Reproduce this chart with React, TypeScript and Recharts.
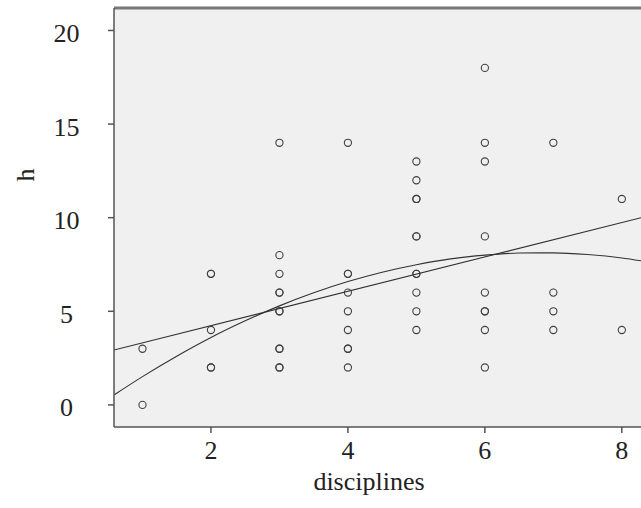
import {
  ComposedChart,
  Scatter,
  Line,
  XAxis,
  YAxis,
  CartesianGrid,
  ReferenceLine,
} from "recharts";

// observed points (disciplines, h) - repeated pairs are overlapping points
const disciplines = [
  1, 1,
  2, 2, 2, 2, 2,
  3, 3, 3, 3, 3, 3, 3, 3, 3, 3, 3,
  4, 4, 4, 4, 4, 4, 4, 4, 4,
  5, 5, 5, 5, 5, 5, 5, 5, 5, 5, 5,
  6, 6, 6, 6, 6, 6, 6, 6, 6,
  7, 7, 7, 7,
  8, 8,
];
const hValues = [
  3, 0,
  7, 7, 4, 2, 2,
  14, 8, 7, 6, 6, 5, 5, 3, 3, 2, 2,
  14, 7, 7, 6, 5, 4, 3, 3, 2,
  13, 12, 11, 11, 9, 9, 7, 7, 6, 5, 4,
  18, 14, 13, 9, 6, 5, 5, 4, 2,
  14, 6, 5, 4,
  11, 4,
];

// fitted lines
const linearX = [0.584, 8.28];
const linearY = [2.93, 10.0];
const quadX = [0.584, 1, 1.5, 2, 2.5, 3, 3.5, 4, 4.5, 5, 5.5, 6, 6.5, 7, 7.5, 8, 8.28];
const quadY = [0.53, 1.51, 2.6, 3.6, 4.49, 5.29, 5.99, 6.59, 7.09, 7.49, 7.8, 8.0, 8.11, 8.12, 8.03, 7.85, 7.7];

const xTicks = [2, 4, 6, 8];
const yTicks = [0, 5, 10, 15, 20];
const xDomain = [0.584, 8.28];
const yDomain = [-1.18, 21.2];

const points = disciplines.map((d, i) => ({ x: d, y: hValues[i] }));
const linearData = linearX.map((x, i) => ({ x, y: linearY[i] }));
const quadData = quadX.map((x, i) => ({ x, y: quadY[i] }));

const FONT = "'Liberation Serif', 'Times New Roman', serif";

const OpenCircle = (props: any) => {
  const { cx, cy } = props;
  return <circle cx={cx} cy={cy} r={3.6} fill="none" stroke="#404040" strokeWidth={1.1} />;
};

const YTick = (props: any) => {
  const { y, payload } = props;
  return (
    <text x={66.5} y={y + 3} textAnchor="middle" dominantBaseline="central" fontSize={26} fontFamily={FONT} fill="#222">
      {payload.value}
    </text>
  );
};

export default function App() {
  return (
    <div style={{ position: "absolute", left: 0, top: 0, width: 641, height: 508, background: "#fff" }}>
      <ComposedChart width={641} height={508} margin={{ top: 8, right: 0, left: 0, bottom: 0 }}>
        <CartesianGrid fill="#f0f0f0" horizontal={false} vertical={false} />
        <XAxis
          type="number"
          dataKey="x"
          domain={xDomain}
          ticks={xTicks}
          allowDataOverflow
          height={81}
          tickSize={6}
          tickMargin={8}
          stroke="#555"
          axisLine={{ stroke: "#555", strokeWidth: 1.5 }}
          tickLine={{ stroke: "#555", strokeWidth: 1.5 }}
          tick={{ fontSize: 26, fontFamily: FONT, fill: "#222" }}
          label={{
            content: () => (
              <text x={369} y={490} textAnchor="middle" fontSize={26} fontFamily={FONT} fill="#222">
                disciplines
              </text>
            ),
          }}
        />
        <YAxis
          type="number"
          dataKey="y"
          domain={yDomain}
          ticks={yTicks}
          allowDataOverflow
          width={114}
          tickSize={6}
          axisLine={{ stroke: "#555", strokeWidth: 1.5 }}
          tickLine={{ stroke: "#555", strokeWidth: 1.5 }}
          tick={<YTick />}
          label={{
            content: () => (
              <text
                x={25}
                y={175}
                textAnchor="middle"
                dominantBaseline="central"
                fontSize={26}
                fontFamily={FONT}
                fill="#222"
                transform="rotate(-90 25 175)"
              >
                h
              </text>
            ),
          }}
        />
        <ReferenceLine y={yDomain[1]} stroke="#777" strokeWidth={3} ifOverflow="extendDomain" />
        <Scatter data={points} shape={<OpenCircle />} isAnimationActive={false} />
        <Line
          data={linearData}
          dataKey="y"
          type="linear"
          stroke="#333"
          strokeWidth={1.1}
          dot={false}
          activeDot={false}
          isAnimationActive={false}
        />
        <Line
          data={quadData}
          dataKey="y"
          type="monotone"
          stroke="#333"
          strokeWidth={1.1}
          dot={false}
          activeDot={false}
          isAnimationActive={false}
        />
      </ComposedChart>
    </div>
  );
}
